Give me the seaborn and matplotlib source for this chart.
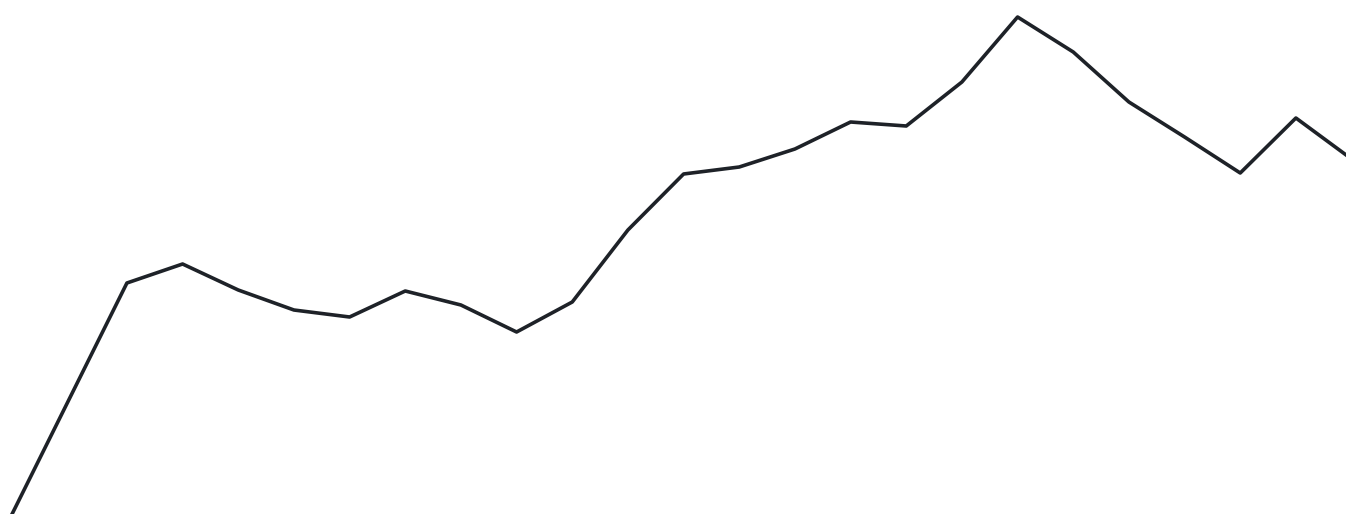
import matplotlib
matplotlib.use("Agg")
import matplotlib.pyplot as plt
import seaborn as sb

# one series (index = step along the x axis)
steps = list(range(26))
values = [-104, 7, 119, 231, 250, 224, 204, 197, 223, 209, 182, 212, 284,
          340, 347, 365, 392, 388, 432, 497, 462, 412, 377, 341, 396, 355]

sb.set_style("white")

fig = plt.figure(figsize=(13.46, 5.14), dpi=100)
ax = fig.add_axes([0, 0, 1, 1])
sb.lineplot(x=steps, y=values, ax=ax, color="#1e2228", linewidth=2.6)
ax.set_xlim(0.72, 24.9)
ax.set_ylim(0, 514)
ax.axis("off")

fig.savefig("out.png", dpi=100, facecolor="white")
